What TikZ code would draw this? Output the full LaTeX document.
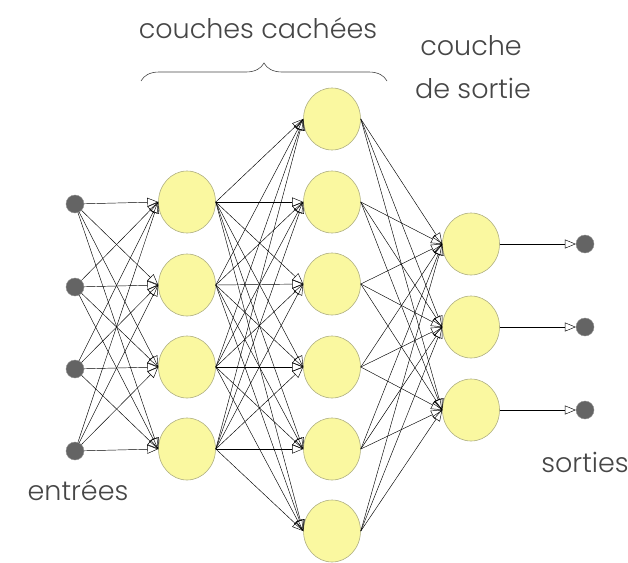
\documentclass[tikz,border=0pt]{standalone}
\usepackage{fontspec}
\setmainfont{Poppins}[UprightFont=* Light]
\usetikzlibrary{arrows.meta,decorations.pathreplacing,shapes.geometric}
\definecolor{neuronfill}{RGB}{250,248,160}
\definecolor{neuronborder}{RGB}{175,175,130}
\definecolor{dotfill}{RGB}{100,100,100}
\definecolor{textgray}{RGB}{70,70,70}
\begin{document}
\begin{tikzpicture}[x=1pt,y=-1pt,
  neuron/.style={ellipse, draw=neuronborder, fill=neuronfill, line width=0.6pt, minimum width=57pt, minimum height=62pt, inner sep=0pt},
  dotnode/.style={circle, fill=dotfill, draw=dotfill!70, minimum size=18pt, inner sep=0pt},
  link/.style={draw=black, line width=0.45pt, -{Triangle[open, length=11pt, width=9pt, line width=0.45pt]}},
  label/.style={font=\fontsize{27}{30}\selectfont, text=textgray, inner sep=0pt}]
\useasboundingbox (0,0) rectangle (628,562);
% inputs
\foreach \i/\y in {1/204,2/287,3/369,4/451}
  \node[dotnode] (in\i) at (75,\y) {};
% hidden 1
\foreach \i/\y in {1/202,2/285,3/367,4/449}
  \node[neuron] (a\i) at (187,\y) {};
% hidden 2
\foreach \i/\y in {1/119,2/202,3/284,4/367,5/449,6/531}
  \node[neuron] (b\i) at (332,\y) {};
% output layer
\foreach \i/\y in {1/244,2/327,3/410}
  \node[neuron] (c\i) at (471,\y) {};
% output dots
\foreach \i/\y in {1/244,2/327,3/410}
  \node[dotnode] (o\i) at (585,\y) {};
% connections
\foreach \i in {1,...,4}
  \foreach \j in {1,...,4}
    \draw[link] (in\i) -- (a\j.west);
\foreach \i in {1,...,4}
  \foreach \j in {1,...,6}
    \draw[link] (a\i.east) -- (b\j.west);
\foreach \i in {1,...,6}
  \foreach \j in {1,...,3}
    \draw[link] (b\i.east) -- (c\j.west);
\foreach \i in {1,...,3}
  \draw[link] (c\i.east) -- (o\i);
% labels
\node[label] (t1) at (258,28) {couches cachées};
\node[label] (t2) at (471,46) {couche};
\node[label] (t3) at (473,88) {de sortie};
\node[label] (t4) at (78,490) {entrées};
\node[label] (t5) at (585,462) {sorties};
\coordinate (bl) at (141,81);
\coordinate (br) at (387,81);
\draw[decorate, decoration={brace, amplitude=18pt}, draw=textgray, line width=0.6pt] (bl) -- (br);
\end{tikzpicture}
\end{document}
